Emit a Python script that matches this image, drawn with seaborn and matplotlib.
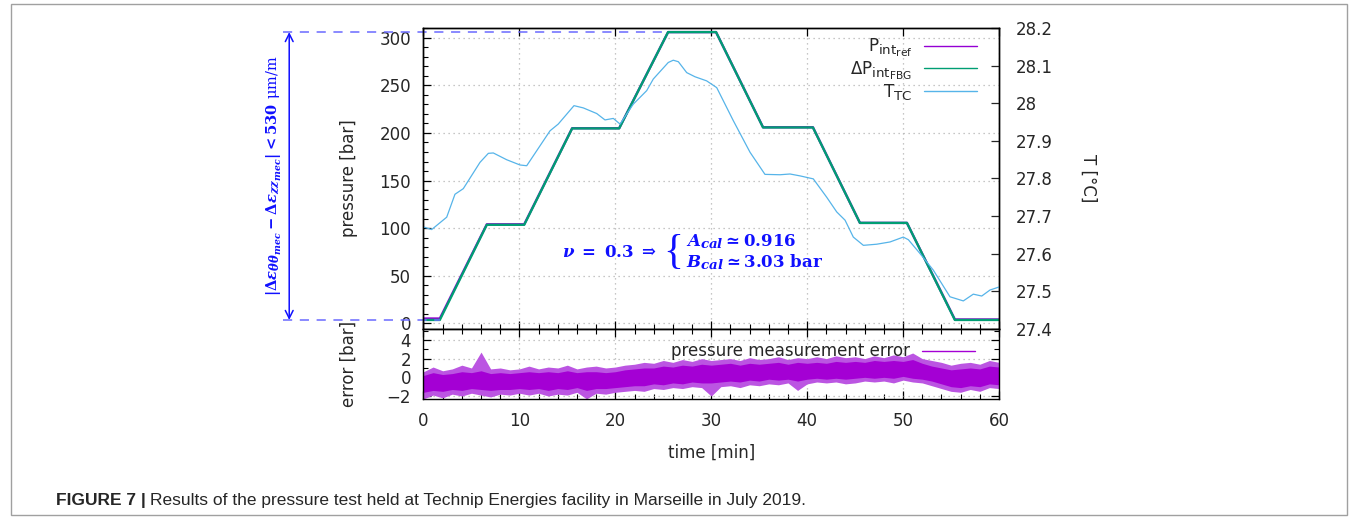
import matplotlib
matplotlib.use('Agg')
import matplotlib.pyplot as plt
import matplotlib.ticker as mticker
import matplotlib._mathtext as _mt
from matplotlib.lines import Line2D
from matplotlib.patches import Rectangle
import seaborn as sns

# pressure profile (min, bar), read at the corners of the steps
time_knots = [0, 1.7, 6.6, 10.5, 15.5, 20.4, 25.5, 30.5, 35.4, 40.6, 45.5, 50.4, 55.4, 60]
p_ref = [5, 5, 104, 104, 205, 205, 306, 306, 206, 206, 105.5, 105.5, 4, 4]
p_fbg = [3.5, 3.5, 103.5, 103.5, 204.8, 204.8, 306, 306, 205.8, 205.8, 105.5, 105.5, 3.5, 3.5]

# thermocouple temperature (right axis)
temp_time = [0, 0.85, 2.42, 3.28, 4.15, 5.89, 6.76, 7.28, 8.67, 10.06, 10.76, 13.19, 14.05,
             15.69, 16.66, 18.06, 18.92, 19.79, 20.49, 21.87, 23.27, 23.96, 25.52, 26.04,
             26.57, 27.44, 28.3, 29.52, 30.57, 32.3, 34.04, 35.6, 37.17, 38.21, 39.25, 40.64,
             42.04, 43.08, 43.95, 44.81, 45.86, 47.25, 48.64, 50.02, 50.55, 51.77, 53.15,
             54.89, 56.28, 57.32, 58.2, 59.06, 60]
temp_tc = [27.671, 27.664, 27.697, 27.758, 27.773, 27.843, 27.867, 27.868, 27.850, 27.836,
           27.834, 27.927, 27.945, 27.994, 27.988, 27.973, 27.956, 27.960, 27.945, 27.998,
           28.034, 28.065, 28.109, 28.115, 28.111, 28.082, 28.071, 28.060, 28.042, 27.954,
           27.870, 27.811, 27.810, 27.812, 27.807, 27.799, 27.750, 27.711, 27.689, 27.644,
           27.622, 27.625, 27.631, 27.644, 27.637, 27.600, 27.556, 27.485, 27.474, 27.492,
           27.487, 27.503, 27.511]

# pressure measurement error, one reading per minute:
# outer = extent of the spikes, core = dense part of the band
err_time = list(range(61))
err_outer_hi = [0.6, 1.1, 0.7, 0.9, 1.3, 1.0, 2.7, 0.9, 1.0, 0.8, 0.9,
                1.2, 0.9, 1.1, 1.0, 1.3, 0.9, 1.1, 1.2, 1.0, 1.1,
                1.3, 1.4, 1.6, 1.5, 1.8, 1.6, 1.9, 1.7, 2.0, 1.8,
                1.9, 2.0, 1.8, 2.1, 1.9, 2.0, 2.2, 1.9, 2.1, 2.0,
                2.2, 2.0, 2.3, 2.1, 2.2, 2.0, 2.3, 2.1, 2.4, 2.2,
                2.6, 2.0, 1.8, 1.6, 1.3, 1.5, 1.6, 1.4, 1.8, 1.6]
err_outer_lo = [-2.3, -1.9, -2.2, -1.8, -2.0, -1.7, -1.9, -2.1, -1.8, -1.9, -1.7,
                -1.9, -1.7, -2.0, -1.8, -1.9, -1.6, -2.3, -1.7, -1.8, -1.6,
                -1.5, -1.4, -1.5, -1.2, -1.3, -1.1, -1.2, -1.0, -1.1, -2.0,
                -1.0, -0.9, -1.1, -0.8, -0.9, -0.7, -0.8, -0.6, -1.4, -0.7,
                -0.5, -0.6, -0.5, -0.7, -0.6, -0.4, -0.5, -0.4, -0.6, -0.3,
                -0.5, -0.6, -0.9, -1.2, -1.5, -1.6, -1.3, -1.5, -1.1, -1.2]
err_core_hi = [0.2, 0.5, 0.3, 0.4, 0.6, 0.5, 0.7, 0.4, 0.5, 0.4, 0.5,
               0.6, 0.5, 0.6, 0.5, 0.7, 0.5, 0.6, 0.6, 0.5, 0.6,
               0.8, 0.9, 1.0, 1.0, 1.2, 1.1, 1.3, 1.2, 1.4, 1.3,
               1.4, 1.5, 1.3, 1.5, 1.4, 1.5, 1.6, 1.4, 1.6, 1.5,
               1.6, 1.5, 1.7, 1.6, 1.7, 1.6, 1.8, 1.7, 1.8, 1.7,
               1.9, 1.5, 1.2, 1.0, 0.8, 0.9, 1.0, 0.9, 1.2, 1.1]
err_core_lo = [-1.6, -1.4, -1.5, -1.3, -1.4, -1.2, -1.3, -1.4, -1.3, -1.3, -1.2,
               -1.3, -1.2, -1.4, -1.2, -1.3, -1.1, -1.4, -1.2, -1.2, -1.1,
               -1.0, -0.9, -0.9, -0.7, -0.8, -0.6, -0.7, -0.5, -0.6, -0.6,
               -0.5, -0.4, -0.5, -0.3, -0.4, -0.2, -0.3, -0.2, -0.4, -0.2,
               -0.1, -0.2, -0.1, -0.2, -0.1, 0.0, -0.1, 0.0, -0.1, 0.1,
               -0.1, -0.2, -0.4, -0.7, -1.0, -1.1, -0.9, -1.0, -0.7, -0.8]

PURPLE = '#9400D3'
GREEN = '#009E73'
SKY = '#56B4E9'
ERRC = '#a400d4'
BLUE = '#1010ff'

sns.set_style('ticks')
plt.rcParams['font.family'] = ['DejaVu Sans']
plt.rcParams['font.size'] = 12
# bold serif maths for the blue annotations (math_fontfamily='custom')
plt.rcParams['mathtext.rm'] = 'DejaVu Serif:bold'
plt.rcParams['mathtext.bf'] = 'DejaVu Serif:bold'
plt.rcParams['mathtext.it'] = 'DejaVu Serif:italic:bold'
plt.rcParams['mathtext.sf'] = 'DejaVu Serif'
# gnuplot-like, less shrunk subscripts
_mt.SHRINK_FACTOR = 0.8

W, H = 1356, 523
fig = plt.figure(figsize=(W / 100, H / 100), dpi=100)
left, right = 423.5 / W, 999 / W
ax = fig.add_axes([left, 1 - 328.7 / H, right - left, (328.7 - 28.3) / H])
ax_e = fig.add_axes([left, 1 - 399.3 / H, right - left, (399.3 - 328.7) / H], sharex=ax)
ax_t = ax.twinx()

# --- main panel
sns.lineplot(x=time_knots, y=p_ref, ax=ax, color=PURPLE, lw=1.7, sort=False)
sns.lineplot(x=time_knots, y=p_fbg, ax=ax, color=GREEN, lw=1.7, sort=False)
sns.lineplot(x=temp_time, y=temp_tc, ax=ax_t, color=SKY, lw=0.9, sort=False)

ax.set_xlim(0, 60)
ax.set_ylim(-5.7, 310)
ax_t.set_ylim(27.4, 28.2)

ax.yaxis.set_major_locator(mticker.MultipleLocator(50))
ax.yaxis.set_minor_locator(mticker.MultipleLocator(10))
ax.xaxis.set_major_locator(mticker.MultipleLocator(10))
ax.xaxis.set_minor_locator(mticker.MultipleLocator(2))
ax_t.yaxis.set_major_locator(mticker.MultipleLocator(0.1))
ax_t.yaxis.set_major_formatter(mticker.FuncFormatter(lambda v, p: '%g' % round(v, 2)))

ax.tick_params(which='both', direction='in', top=True, right=False, labelbottom=False,
               color='black')
ax.tick_params(which='major', length=6, width=0.9, labelsize=12, pad=9)
ax.tick_params(which='minor', length=3.5, width=0.8, top=False)
ax_t.tick_params(axis='y', which='major', direction='in', length=6, width=0.9,
                 labelsize=12, pad=12)
ax.grid(which='major', linestyle=(0, (1, 3)), color='#b4b4b4', lw=0.9)

ax.set_xlabel('')
ax.set_ylabel('pressure [bar]', fontsize=12)
ax.yaxis.set_label_coords(-0.114, 0.5)
ax_t.set_ylabel('T [°C]', fontsize=12, rotation=270, va='center')
ax_t.yaxis.set_label_coords(1.155, 0.5)

handles = [Line2D([], [], color=PURPLE, lw=1.0),
           Line2D([], [], color=GREEN, lw=1.0),
           Line2D([], [], color=SKY, lw=1.0)]
labels = [r'P$_{\mathrm{int}_{\mathrm{ref}}}$',
          r'$\Delta$P$_{\mathrm{int}_{\mathrm{FBG}}}$',
          r'T$_{\mathrm{TC}}$']
ax_t.legend(handles, labels, loc='upper right', bbox_to_anchor=(0.974, 0.994),
            frameon=False, markerfirst=False, fontsize=12, handlelength=3.2,
            handletextpad=0.7, labelspacing=0.0, borderaxespad=0)

# calibration note
ax.text(14.4, 74.5, r'$\nu\;=\;0.3\;\Rightarrow$', color=BLUE, fontsize=12,
        ha='left', va='center', math_fontfamily='custom')
ax.text(25.0, 74.5, '{', color=BLUE, fontsize=30, family='Liberation Serif',
        ha='left', va='center')
ax.text(27.4, 85.5, r'$A_{cal} \simeq 0.916$', color=BLUE,
        fontsize=12, ha='left', va='center', math_fontfamily='custom')
ax.text(27.4, 64.5, r'$B_{cal} \simeq 3.03\ \mathrm{bar}$', color=BLUE,
        fontsize=12, ha='left', va='center', math_fontfamily='custom')

# strain span marker on the left of the pressure axis
p_hi, p_lo = max(p_fbg), min(p_fbg)
dash = dict(color='#6a6aff', lw=1.1, dashes=(6, 5), clip_on=False)
ax.plot([-14.65, 25.5], [p_hi, p_hi], **dash)
ax.plot([-14.65, 1.7], [p_lo, p_lo], **dash)
ax.annotate('', xy=(-14.0, p_hi), xytext=(-14.0, p_lo), annotation_clip=False,
            arrowprops=dict(arrowstyle='<->', color=BLUE, lw=1.1,
                            mutation_scale=14, shrinkA=0, shrinkB=0))
ax.text(-15.5, (p_hi + p_lo) / 2,
        r'$\left|\Delta\epsilon_{\theta\theta_{mec}} - \Delta\epsilon_{zz_{mec}}\right|'
        r' < 530\ \mathsf{\mu m/m}$',
        color=BLUE, fontsize=10.5, rotation=90, ha='center', va='center',
        math_fontfamily='custom', clip_on=False)

# --- error panel
ax_e.fill_between(err_time, err_outer_lo, err_outer_hi, color='#bb55e2', lw=0)
ax_e.fill_between(err_time, err_core_lo, err_core_hi, color=ERRC, lw=0)
ax_e.set_ylim(-2.35, 5.2)
ax_e.yaxis.set_major_locator(mticker.MultipleLocator(2))
ax_e.yaxis.set_minor_locator(mticker.MultipleLocator(1))
ax_e.tick_params(which='both', direction='in', top=True, right=True, color='black')
ax_e.tick_params(which='major', length=6, width=0.9, labelsize=12, pad=9)
ax_e.tick_params(which='minor', length=3.5, width=0.8)
ax_e.tick_params(axis='x', which='major', pad=9)
ax_e.grid(which='major', linestyle=(0, (1, 3)), color='#b4b4b4', lw=0.9)
ax_e.set_ylabel('error [bar]', fontsize=12)
ax_e.yaxis.set_label_coords(-0.114, 0.5)
ax_e.set_xlabel('time [min]', fontsize=12, labelpad=10)
ax_e.legend([Line2D([], [], color=ERRC, lw=1.0)], ['pressure measurement error'],
            loc='upper right', bbox_to_anchor=(0.970, 0.90), frameon=False,
            markerfirst=False, fontsize=12, handlelength=3.2, handletextpad=0.7,
            borderaxespad=0)

for a in (ax, ax_e, ax_t):
    for s in a.spines.values():
        s.set_color('black')
        s.set_linewidth(1.0)

# figure frame and caption
fig.patches.append(Rectangle((11 / W, 8 / H), (1347 - 11) / W, (H - 4 - 8) / H,
                             transform=fig.transFigure, fill=False,
                             edgecolor='#a0a0a0', lw=1.0))
t1 = fig.text(56 / W, 1 - 500 / H, 'FIGURE 7 |', fontsize=12.5, weight='bold',
              family='Liberation Sans', va='center', ha='left')
fig.canvas.draw()
bb = t1.get_window_extent()
fig.text((bb.x1 + 4) / W, 1 - 500 / H,
         'Results of the pressure test held at Technip Energies facility in Marseille in July 2019.',
         fontsize=12.5, family='Liberation Sans', va='center', ha='left')

fig.savefig('out.png', dpi=100)
